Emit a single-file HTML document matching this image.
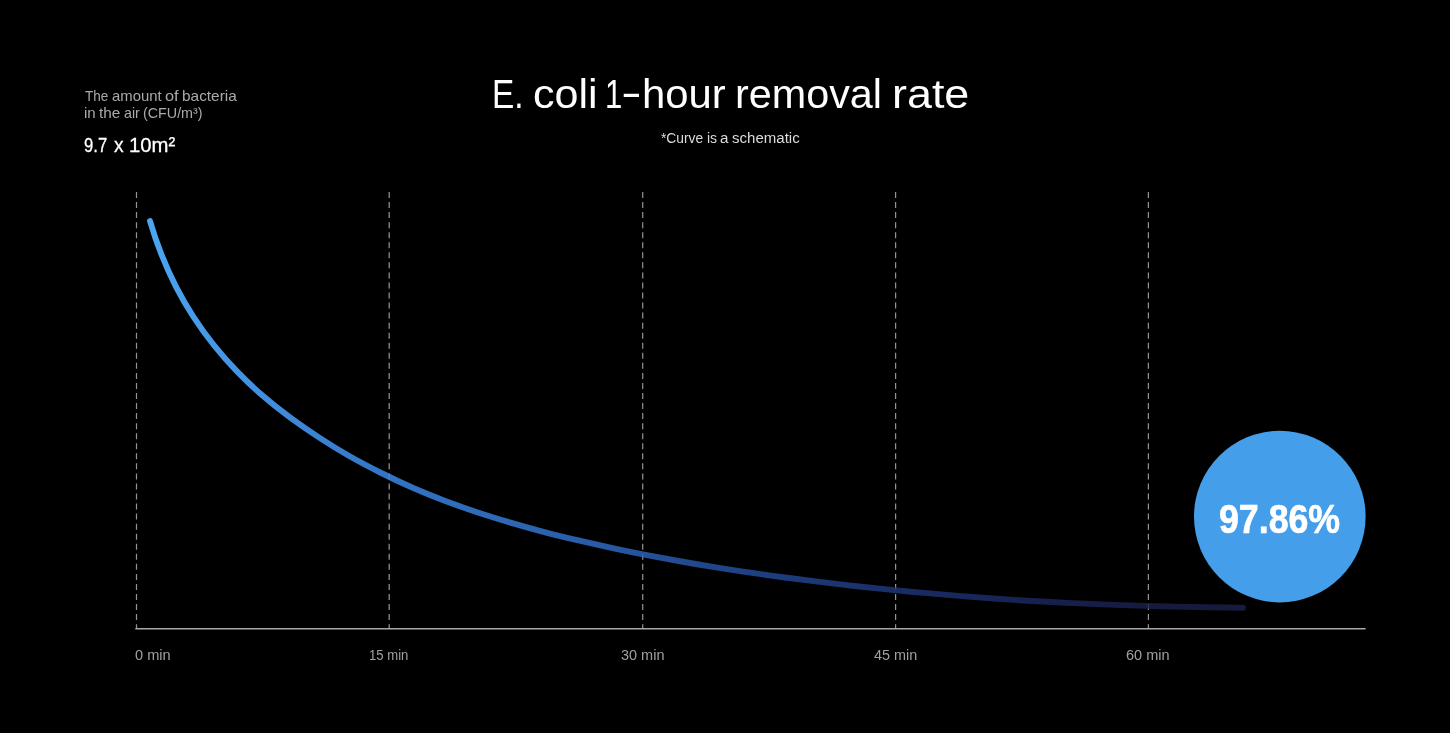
<!DOCTYPE html>
<html lang="en">
<head>
<meta charset="utf-8">
<title>E. coli 1-hour removal rate</title>
<style>
  html, body { margin: 0; padding: 0; background: #000; }
  body { width: 1450px; height: 733px; position: relative; overflow: hidden;
         font-family: "Liberation Sans", sans-serif; color: #fff; }
  .t { position: absolute; white-space: pre; line-height: 1; transform-origin: 0 0; }
  svg { position: absolute; left: 0; top: 0; }
  .grp { margin: 0; padding: 0; font: inherit; }
</style>
</head>
<body>
<svg width="1450" height="733" viewBox="0 0 1450 733">
  <defs>
    <linearGradient id="g" gradientUnits="userSpaceOnUse" x1="150" y1="0" x2="1245" y2="0">
      <stop offset="0" stop-color="#4ba5f1"/>
      <stop offset="0.10" stop-color="#428fdf"/>
      <stop offset="0.22" stop-color="#3273c3"/>
      <stop offset="0.32" stop-color="#2d69b4"/>
      <stop offset="0.41" stop-color="#285aa5"/>
      <stop offset="0.50" stop-color="#21488c"/>
      <stop offset="0.59" stop-color="#1c3a78"/>
      <stop offset="0.685" stop-color="#1a2c64"/>
      <stop offset="0.82" stop-color="#16204e"/>
      <stop offset="0.93" stop-color="#161a3c"/>
      <stop offset="1" stop-color="#161a3c"/>
    </linearGradient>
  </defs>
  <g stroke="#838383" stroke-width="1.2" stroke-dasharray="6 4.05" fill="none">
    <line x1="136.5" y1="192" x2="136.5" y2="628.5"/>
    <line x1="389.2" y1="192" x2="389.2" y2="628.5"/>
    <line x1="642.7" y1="192" x2="642.7" y2="628.5"/>
    <line x1="895.6" y1="192" x2="895.6" y2="628.5"/>
    <line x1="1148.4" y1="192" x2="1148.4" y2="628.5"/>
  </g>
  <line x1="135.3" y1="628.85" x2="1365.6" y2="628.85" stroke="#a8a8a8" stroke-width="1.5"/>
  <circle cx="1279.8" cy="516.6" r="85.8" fill="#459ee9"/>
  <path fill="none" stroke="url(#g)" stroke-width="5.9" stroke-linecap="round" stroke-linejoin="round"
        d="M150.00 221.00 C153.28 232.25 157.07 243.36 161.37 254.27 C165.67 265.18 170.48 275.88 175.82 286.31 C181.16 296.75 187.03 306.91 193.40 316.75 C199.77 326.60 206.65 336.11 213.97 345.26 C221.30 354.42 229.07 363.21 237.23 371.62 C245.40 380.04 253.94 388.07 262.81 395.74 C271.68 403.40 280.88 410.69 290.31 417.65 C299.75 424.61 309.43 431.23 319.25 437.63 C329.07 444.03 339.04 450.20 349.23 456.01 C359.41 461.81 369.80 467.25 380.29 472.49 C390.78 477.73 401.36 482.77 412.10 487.48 C422.83 492.19 433.71 496.57 444.68 500.72 C455.64 504.87 466.69 508.79 477.82 512.46 C488.96 516.13 500.17 519.54 511.42 522.85 C522.67 526.16 533.95 529.35 545.29 532.32 C556.63 535.29 568.03 538.03 579.45 540.68 C590.87 543.33 602.31 545.89 613.77 548.34 C625.24 550.79 636.73 553.11 648.24 555.34 C659.74 557.57 671.27 559.69 682.82 561.73 C694.36 563.77 705.92 565.74 717.49 567.61 C729.06 569.47 740.65 571.25 752.25 572.94 C763.85 574.63 775.47 576.24 787.09 577.78 C798.71 579.31 810.34 580.77 821.98 582.18 C833.62 583.58 845.26 584.93 856.91 586.22 C868.57 587.50 880.23 588.72 891.89 589.87 C903.56 591.03 915.23 592.12 926.91 593.16 C938.58 594.20 950.26 595.20 961.95 596.14 C973.63 597.08 985.32 597.95 997.02 598.77 C1008.71 599.58 1020.41 600.32 1032.12 601.00 C1043.82 601.67 1055.53 602.28 1067.24 602.83 C1078.95 603.39 1090.66 603.90 1102.37 604.36 C1114.09 604.82 1125.80 605.23 1137.52 605.61 C1149.23 605.98 1160.95 606.31 1172.67 606.59 C1184.39 606.87 1196.11 607.09 1207.83 607.28 C1219.56 607.46 1231.28 607.60 1243.00 607.70"/>
  <g stroke="#ffffff" stroke-opacity="0.13" stroke-width="1.2" stroke-dasharray="6 4.05" fill="none">
    <line x1="136.5" y1="192" x2="136.5" y2="628.5"/>
    <line x1="389.2" y1="192" x2="389.2" y2="628.5"/>
    <line x1="642.7" y1="192" x2="642.7" y2="628.5"/>
    <line x1="895.6" y1="192" x2="895.6" y2="628.5"/>
    <line x1="1148.4" y1="192" x2="1148.4" y2="628.5"/>
  </g>
</svg>
<div class="grp" id="ylabel">
  <span class="t" id="ya1" style="left:85.06px;top:88.93px;font-size:14.5px;color:#aaaaaa;transform:scaleX(0.9313)">The</span>
  <span class="t" id="ya2" style="left:111.55px;top:88.93px;font-size:14.5px;color:#aaaaaa;transform:scaleX(1.0252)">amount</span>
  <span class="t" id="ya3" style="left:165.48px;top:88.93px;font-size:14.5px;color:#aaaaaa;transform:scaleX(1.1269)">of</span>
  <span class="t" id="ya4" style="left:181.88px;top:88.93px;font-size:14.5px;color:#aaaaaa;transform:scaleX(1.0623)">bacteria</span>
  <span class="t" id="yb1" style="left:83.89px;top:105.93px;font-size:14.5px;color:#aaaaaa;transform:scaleX(1.0391)">in</span>
  <span class="t" id="yb2" style="left:98.97px;top:105.93px;font-size:14.5px;color:#aaaaaa;transform:scaleX(1.0613)">the</span>
  <span class="t" id="yb3" style="left:124.09px;top:105.93px;font-size:14.5px;color:#aaaaaa;transform:scaleX(0.9794)">air</span>
  <span class="t" id="yb4" style="left:142.82px;top:105.93px;font-size:14.5px;color:#aaaaaa;transform:scaleX(0.9859)">(CFU/m³)</span>
</div>
<div class="grp" id="yvalue">
  <span class="t" id="yv1" style="left:83.97px;top:134.23px;font-size:21px;color:#ffffff;-webkit-text-stroke:0.3px #fff;transform:scaleX(0.7936)">9.7</span>
  <span class="t" id="yv2" style="left:114.05px;top:134.23px;font-size:21px;color:#ffffff;-webkit-text-stroke:0.3px #fff;transform:scaleX(0.9145)">x</span>
  <span class="t" id="yv3" style="left:129.43px;top:134.23px;font-size:21px;color:#ffffff;-webkit-text-stroke:0.3px #fff;transform:scaleX(0.9681)">10m²</span>
</div>
<h1 class="grp" id="title">
  <span class="t" id="tw1" style="left:491.85px;top:74.14px;font-size:40px;color:#ffffff;transform:scaleX(0.8346)">E.</span>
  <span class="t" id="tw2" style="left:532.77px;top:74.14px;font-size:40px;color:#ffffff;transform:scaleX(1.0769)">coli</span>
  <span class="t" id="tw3a" style="left:604.62px;top:74.14px;font-size:40px;color:#ffffff;transform:scaleX(0.7776)">1</span><span class="t" id="tw3b" style="left:621.26px;top:71.94px;font-size:40px;color:#ffffff;transform:scaleX(1.5613)">-</span><span class="t" id="tw3c" style="left:642.06px;top:74.14px;font-size:40px;color:#ffffff;transform:scaleX(1.0463)">hour</span>
  <span class="t" id="tw4" style="left:734.88px;top:74.14px;font-size:40px;color:#ffffff;transform:scaleX(1.0331)">removal</span>
  <span class="t" id="tw5" style="left:892.22px;top:74.14px;font-size:40px;color:#ffffff;transform:scaleX(1.1215)">rate</span>
</h1>
<p class="grp" id="subtitle">
  <span class="t" id="sw1" style="left:661.46px;top:131.15px;font-size:14px;color:#dcdcdc;transform:scaleX(0.9841)">*Curve</span>
  <span class="t" id="sw2" style="left:706.91px;top:131.15px;font-size:14px;color:#dcdcdc;transform:scaleX(0.9966)">is</span>
  <span class="t" id="sw3" style="left:720.19px;top:131.15px;font-size:14px;color:#dcdcdc;transform:scaleX(1.0854)">a</span>
  <span class="t" id="sw4" style="left:732.26px;top:131.15px;font-size:14px;color:#dcdcdc;transform:scaleX(1.0737)">schematic</span>
</p>
<div class="grp" id="xaxis">
  <span class="t" id="t0" style="left:134.63px;top:647.75px;font-size:14px;color:#a0a0a0;transform:scaleX(1.0440)">0 min</span>
  <span class="t" id="t1" style="left:369.32px;top:647.75px;font-size:14px;color:#a0a0a0;transform:scaleX(0.9362)">15 min</span>
  <span class="t" id="t2" style="left:621.47px;top:647.75px;font-size:14px;color:#a0a0a0;transform:scaleX(1.0337)">30 min</span>
  <span class="t" id="t3" style="left:873.66px;top:647.75px;font-size:14px;color:#a0a0a0;transform:scaleX(1.0287)">45 min</span>
  <span class="t" id="t4" style="left:1126.19px;top:647.75px;font-size:14px;color:#a0a0a0;transform:scaleX(1.0368)">60 min</span>
</div>
<div class="grp" id="result">
  <span class="t" id="pct" style="left:1218.71px;top:498.70px;font-size:41px;color:#ffffff;font-weight:bold;-webkit-text-stroke:0.7px #fff;transform:scaleX(0.8708)">97.86%</span>
</div>
</body>
</html>
